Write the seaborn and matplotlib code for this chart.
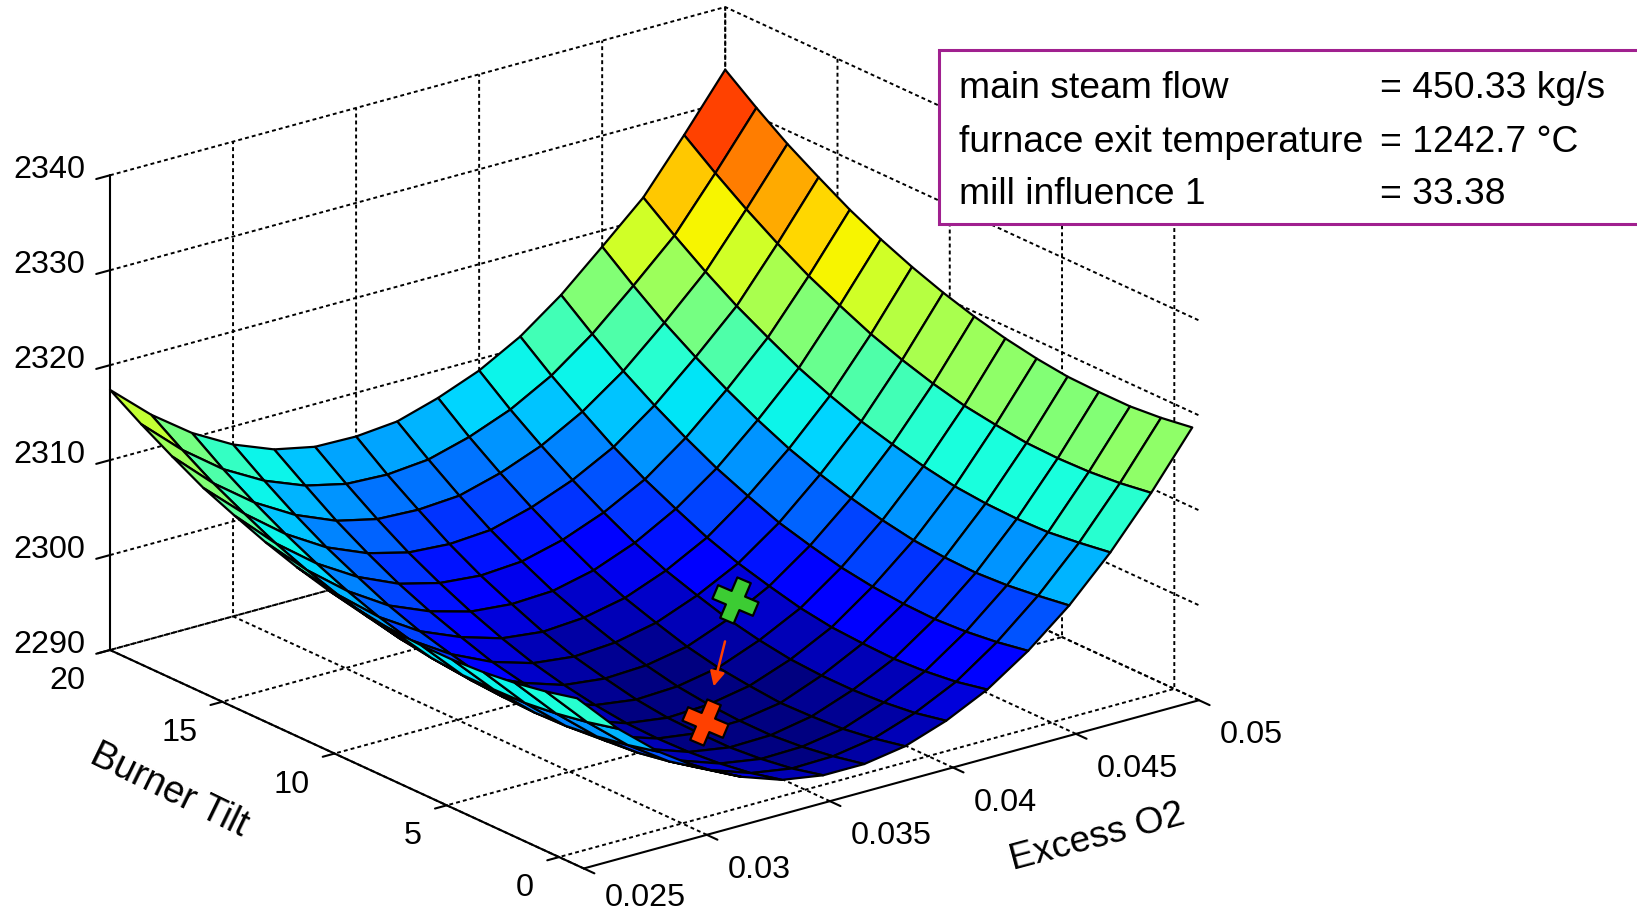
import numpy as np
import seaborn as sns
import matplotlib
matplotlib.use("Agg")
import matplotlib.pyplot as plt
from matplotlib.colors import Normalize
from matplotlib.markers import MarkerStyle
from matplotlib.patches import Rectangle
from matplotlib.transforms import Affine2D
from mpl_toolkits.mplot3d import proj3d

W, H = 1637, 914

x_vals = [0.025, 0.02667, 0.02833, 0.03, 0.03167, 0.03333, 0.035, 0.03667, 0.03833, 0.04, 0.04167, 0.04333, 0.045, 0.04667, 0.04833, 0.05]
y_vals = [-0.8, 0.59, 1.97, 3.36, 4.75, 6.13, 7.52, 8.91, 10.29, 11.68, 13.07, 14.45, 15.84, 17.23, 18.61, 20]
z_rows = [
    [2307.6, 2303.2, 2299.6, 2296.7, 2294.6, 2293.1, 2292.4, 2292.4, 2293.1, 2294.6, 2296.7, 2299.6, 2303.2, 2307.6, 2312.7, 2318.4],
    [2306.8, 2302.4, 2298.8, 2295.9, 2293.8, 2292.3, 2291.6, 2291.7, 2292.4, 2293.9, 2296.0, 2299.0, 2302.7, 2307.1, 2312.2, 2317.9],
    [2306.2, 2301.8, 2298.2, 2295.3, 2293.3, 2291.8, 2291.1, 2291.2, 2291.9, 2293.5, 2295.6, 2298.6, 2302.3, 2306.7, 2311.9, 2317.6],
    [2305.8, 2301.4, 2297.8, 2295.0, 2293.0, 2291.5, 2290.8, 2290.9, 2291.7, 2293.3, 2295.4, 2298.4, 2302.1, 2306.6, 2311.8, 2317.6],
    [2305.6, 2301.3, 2297.7, 2294.9, 2292.8, 2291.4, 2290.8, 2290.9, 2291.6, 2293.3, 2295.5, 2298.5, 2302.2, 2306.7, 2311.9, 2317.7],
    [2305.6, 2301.3, 2297.8, 2295.0, 2293.0, 2291.5, 2290.9, 2291.1, 2291.9, 2293.5, 2295.7, 2298.8, 2302.5, 2307.0, 2312.3, 2318.1],
    [2305.8, 2301.6, 2298.0, 2295.3, 2293.3, 2291.9, 2291.3, 2291.5, 2292.3, 2294.0, 2296.2, 2299.3, 2303.1, 2307.6, 2312.8, 2318.7],
    [2306.3, 2302.1, 2298.6, 2295.8, 2293.9, 2292.5, 2292.0, 2292.2, 2293.0, 2294.7, 2297.0, 2300.1, 2303.9, 2308.4, 2313.6, 2319.5],
    [2306.9, 2302.8, 2299.3, 2296.6, 2294.6, 2293.3, 2292.8, 2293.1, 2294.0, 2295.7, 2297.9, 2301.0, 2304.9, 2309.3, 2314.6, 2320.5],
    [2307.8, 2303.7, 2300.2, 2297.5, 2295.7, 2294.4, 2293.9, 2294.2, 2295.1, 2296.8, 2299.1, 2302.3, 2306.1, 2310.5, 2315.8, 2321.7],
    [2308.9, 2304.8, 2301.4, 2298.7, 2296.9, 2295.7, 2295.3, 2295.5, 2296.5, 2298.2, 2300.6, 2303.7, 2307.6, 2311.9, 2317.3, 2323.1],
    [2310.2, 2306.1, 2302.8, 2300.2, 2298.3, 2297.2, 2296.8, 2297.1, 2298.2, 2299.9, 2302.2, 2305.4, 2309.3, 2313.6, 2318.9, 2324.7],
    [2311.6, 2307.7, 2304.4, 2301.8, 2300.0, 2298.9, 2298.6, 2298.9, 2300.1, 2301.8, 2304.1, 2307.3, 2311.2, 2315.4, 2320.8, 2326.6],
    [2313.4, 2309.4, 2306.2, 2303.7, 2301.9, 2300.9, 2300.7, 2301.0, 2302.2, 2303.9, 2306.3, 2309.4, 2313.3, 2317.5, 2322.9, 2328.6],
    [2315.3, 2311.4, 2308.2, 2305.8, 2304.1, 2303.1, 2302.9, 2303.3, 2304.5, 2306.2, 2308.6, 2311.8, 2315.7, 2319.8, 2325.2, 2330.9],
    [2317.4, 2313.6, 2310.5, 2308.1, 2306.4, 2305.5, 2305.4, 2305.8, 2307.1, 2308.8, 2311.2, 2314.4, 2318.3, 2322.3, 2327.7, 2333.4],
]

x_ticks = [0.025, 0.03, 0.035, 0.04, 0.045, 0.05]
x_ticklabels = ["0.025", "0.03", "0.035", "0.04", "0.045", "0.05"]
y_ticks = [0, 5, 10, 15, 20]
y_ticklabels = ["0", "5", "10", "15", "20"]
z_ticks = [2290, 2300, 2310, 2320, 2330, 2340]
z_ticklabels = ["2290", "2300", "2310", "2320", "2330", "2340"]
start_point = (0.04067, 9.32, 2295.8)
best_point = (0.035, 4.47, 2292.3)
info_names = ["main steam flow", "furnace exit temperature", "mill influence 1"]
info_values = ["= 450.33 kg/s", "= 1242.7 °C", "= 33.38"]

sns.set_theme(style="white", font="Liberation Sans", rc={
    "grid.color": "black", "grid.linestyle": (0, (2, 1.6)), "grid.linewidth": 1.4,
    "text.color": "black", "xtick.color": "black", "ytick.color": "black",
    "axes.labelcolor": "black", "xtick.bottom": True, "ytick.left": True})
jet64 = plt.get_cmap("jet", 64)

fig = plt.figure(figsize=(W / 100, H / 100), dpi=100)
ax = fig.add_axes([0, 0, 1, 1], projection="3d", proj_type="ortho")
ax.computed_zorder = False
ax.set_box_aspect((1, 1, 0.654))
ax.view_init(elev=20.8, azim=-127.6)
ax.set_xlim(0.025, 0.05)
ax.set_ylim(-1.1, 20)
ax.set_zlim(2290, 2340)

# fit the cube onto the same pixels as the reference
M = ax.get_proj()
ax.apply_aspect()
S0 = ax.bbox.width
x0, y0 = ax.bbox.x0, ax.bbox.y0
def px(p):
    a, b, _ = proj3d.proj_transform(p[0], p[1], p[2], M)
    return ax.transData.transform((a, b))
pl = px((0.025, 20, 2290))
pr = px((0.05, -1.1, 2290))
S = S0 * (1199 - 110) / (pr[0] - pl[0])
u, v = (pl[0] - x0) / S0, (pl[1] - y0) / S0
ax.set_position([(110 - u * S) / W, (H - 650 - v * S) / H, S / W, S / H])
ax.patch.set_alpha(0)

X, Y = np.meshgrid(x_vals, y_vals)
Z = np.array(z_rows)
# each cell takes the colour of its first corner, as flat shading does
surf = ax.plot_surface(X, Y, Z, facecolors=jet64(Normalize(2291, 2332)(Z)), rstride=1, cstride=1,
                       shade=False, linewidth=1.6, antialiased=True, zorder=1)
surf.set_edgecolor("black")

# in mplot3d the "inward" part of a tick is the one that leaves the box
for axis, tick_len in ((ax.xaxis, 0.28), (ax.yaxis, 0.24), (ax.zaxis, 0.28)):
    axis.set_pane_color((1, 1, 1, 0))
    axis.line.set_color("black")
    axis.line.set_linewidth(1.5)
    axis._axinfo["tick"]["outward_factor"] = 0
    axis._axinfo["tick"]["inward_factor"] = tick_len
    axis._axinfo["tick"]["linewidth"] = {True: 1.5, False: 0.5}
    axis.pane.set_edgecolor((1, 1, 1, 0))
ax.grid(True)
ax.set_xticks(x_ticks, [""] * len(x_ticks))
ax.set_yticks(y_ticks, [""] * len(y_ticks))
ax.set_zticks(z_ticks, [""] * len(z_ticks))

M = ax.get_proj()
def flat(x, y, z):
    return proj3d.proj_transform(x, y, z, M)[:2]

tick_font = dict(fontsize=23.3, textcoords="offset pixels", va="center", annotation_clip=False)
for v, t in zip(x_ticks, x_ticklabels):
    # the lowest label sits against the bottom edge of the image
    ax.annotate(t, xy=flat(v, -1.1, 2290), xytext=(21, -30 if t == "0.025" else -35), ha="left", **tick_font)
for v, t in zip(y_ticks, y_ticklabels):
    ax.annotate(t, xy=flat(0.025, v, 2290), xytext=(-25, -31), ha="right", **tick_font)
for v, t in zip(z_ticks, z_ticklabels):
    ax.annotate(t, xy=flat(0.025, 20, v), xytext=(-25, 5), ha="right", **tick_font)

for p, c in ((start_point, "#3ccc33"), (best_point, "#ff4000")):
    ax.scatter([p[0]], [p[1]], [p[2]], marker=MarkerStyle("P", transform=Affine2D().rotate_deg(-23)),
               s=1000, c=c, edgecolors="black", linewidths=1.6, depthshade=False, zorder=5)

a = flat(*start_point)
b = flat(*best_point)
tail = (a[0] + 0.34 * (b[0] - a[0]), a[1] + 0.34 * (b[1] - a[1]))
head = (a[0] + 0.71 * (b[0] - a[0]), a[1] + 0.71 * (b[1] - a[1]))
ax.annotate("", xy=head, xytext=tail, zorder=6,
            arrowprops=dict(arrowstyle="-|>", color="#ff4000", lw=1.8, mutation_scale=22, shrinkA=0, shrinkB=0))

fig.text(169 / W, 1 - 790 / H, "Burner Tilt", rotation=-26, fontsize=27, ha="center", va="center")
fig.text(1097 / W, 1 - 838 / H, "Excess O2", rotation=15, fontsize=26.7, ha="center", va="center")

fig.add_artist(Rectangle((938.5 / W, 1 - 224 / H), 800 / W, 174 / H, transform=fig.transFigure,
                         facecolor="white", edgecolor="#a0208f", linewidth=2.2, zorder=5))
for row_y, name, value in zip([88, 142, 195], info_names, info_values):
    fig.text(959 / W, 1 - row_y / H, name, fontsize=26.8, ha="left", va="center", zorder=6)
    fig.text(1380 / W, 1 - row_y / H, value, fontsize=26.8, ha="left", va="center", zorder=6)

fig.savefig("out.png", dpi=100)
